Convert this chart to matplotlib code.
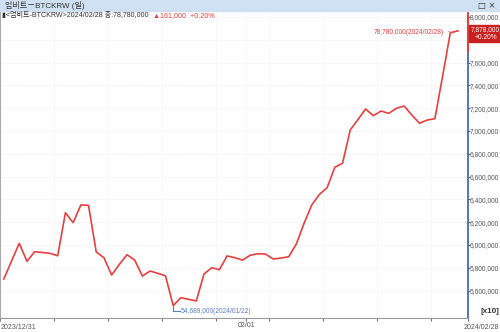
import matplotlib.pyplot as plt
import matplotlib.patches as mpatches
import numpy as np
import pandas as pd

plt.rcParams['font.family'] = ['Liberation Sans', 'Noto Sans CJK KR', 'DejaVu Sans']

# daily close, 2023/12/31 .. 2024/02/28 (KRW)
dates = pd.date_range('2023-12-31', '2024-02-28', freq='D')
close = [57020000, 58600000, 60150000, 58570000, 59410000, 59350000, 59270000,
         59060000, 62830000, 61960000, 63510000, 63480000, 59390000, 58890000,
         57370000, 58300000, 59150000, 58680000, 57280000, 57720000, 57520000,
         57300000, 54689000, 55380000, 55240000, 55090000, 57450000, 58010000,
         57840000, 59040000, 58890000, 58680000, 59100000, 59240000, 59210000,
         58770000, 58860000, 58970000, 60090000, 61900000, 63510000, 64440000,
         65030000, 66820000, 67170000, 70090000, 71000000, 71930000, 71340000,
         71750000, 71550000, 71990000, 72190000, 71400000, 70680000, 70960000,
         71080000, 74800000, 78619000, 78780000]
yticks = [5600000, 5800000, 6000000, 6200000, 6400000, 6600000, 6800000,
          7000000, 7200000, 7400000, 7600000, 8000000]

red = '#e8403f'
blue = '#5b7fbf'
gray = '#555555'

x = np.arange(len(close))
y = np.array(close) / 10  # chart shows values in x10 units

fig = plt.figure(figsize=(5, 3.32), dpi=100)
ax = fig.add_axes([0.0, 0.042, 0.936, 0.925])
ax.plot(x, y, color=red, lw=1.2, zorder=3)
ax.set_xlim(-0.5, 60.3)
ax.set_ylim(5359600, 8052600)

# grid
for v in yticks + [7800000]:
    ax.axhline(v, color='#eeeeee', lw=0.6, ls=(0, (1, 1)), zorder=1)
for d in [6.5, 13.5, 20.5, 27.5, 31.5, 34.5, 41.5, 48.5, 55.5]:
    ax.axvline(d, color='#f2f2f2', lw=0.6, ls=(0, (1, 1)), zorder=1)

# spines
ax.spines['top'].set_visible(False)
ax.spines['left'].set_color('#aaaaaa')
ax.spines['left'].set_linestyle((0, (1, 1)))
ax.spines['bottom'].set_color('#999999')
ax.spines['right'].set_color('#3a5ca8')
ax.spines['right'].set_linewidth(1.2)

ax.yaxis.tick_right()
ax.set_yticks(yticks)
ax.set_yticklabels(['{:,}'.format(v) for v in yticks], fontsize=4.8, color=gray)
ax.tick_params(axis='y', length=1.2, pad=0.3, color='#3a5ca8')
ax.set_xticks([-0.5, 6.5, 13.5, 20.5, 27.5, 31.5, 34.5, 41.5, 48.5, 55.5, 60.3])
ax.set_xticklabels(['', '', '', '', '', '02/01', '', '', '', '', ''], fontsize=5, color=gray)
ax.tick_params(axis='x', length=2, pad=1, color='#777777')
fig.text(0.002, 0.004, '2023/12/31', fontsize=5, color=gray, ha='left', va='bottom')
fig.text(0.998, 0.004, '2024/02/28', fontsize=5, color=gray, ha='right', va='bottom')
fig.text(0.998, 0.05, '[x10]', fontsize=5.8, color='#333333', ha='right', va='bottom',
         weight='bold')

# red marker on top of right axis
ax.plot([1, 1], [0.87, 1.0], transform=ax.transAxes, color=red, lw=1.5, clip_on=False, zorder=4)

# max / last annotation
last = len(close) - 1
ax.annotate('{:,}({})'.format(close[last], dates[last].strftime('%Y/%m/%d')),
            xy=(x[last] - 0.8, y[last] - 5000), xytext=(x[last] - 1.9, y[last] - 15000),
            fontsize=4.8, color=red, ha='right', va='center',
            arrowprops=dict(arrowstyle='-', color=red, lw=0.8))

# min annotation
imin = int(np.argmin(close))
ax.plot([x[imin], x[imin], x[imin] + 0.9], [y[imin], y[imin] - 50000, y[imin] - 50000],
        color=blue, lw=0.8, zorder=4)
ax.text(x[imin] + 1.0, y[imin] - 50000,
        '{:,}({})'.format(close[imin], dates[imin].strftime('%Y/%m/%d')),
        fontsize=4.8, color=blue, ha='left', va='center')

# current value tag on the right axis
tag = mpatches.Rectangle((0.937, 0.873), 0.063, 0.053, transform=fig.transFigure,
                         color='#c8201e', clip_on=False)
fig.patches.append(tag)
fig.text(0.999, 0.912, '{:,}'.format(int(y[last])), fontsize=4.8, color='white',
         ha='right', va='center')
fig.text(0.995, 0.887, '+0.20%', fontsize=4.8, color='white', ha='right', va='center')

# window title bar
bar = mpatches.Rectangle((0, 0.967), 1, 0.033, transform=fig.transFigure,
                         color='#cfe0f3', clip_on=False)
fig.patches.append(bar)
fig.text(0.01, 0.984, '업비트－BTCKRW (일)', fontsize=5.8, color='#333333', va='center')
fig.text(0.955, 0.984, '□ ×', fontsize=6, color='#333333', va='center',
         family=['DejaVu Sans'])

# header line
chg = close[last] - close[last - 1]
pct = chg / close[last - 1] * 100
head = fig.text(0.004, 0.953,
                '▮<업비트-BTCKRW>{} 종:{:,}'.format(dates[last].strftime('%Y/%m/%d'), close[last]),
                fontsize=5.1, color='#333333', va='center')
fig.add_artist(plt.Annotation('▲{:,}  +{:.2f}%'.format(chg, pct), xy=(1, 0.5),
                              xycoords=head, xytext=(3, 0), textcoords='offset points',
                              fontsize=5.1, color=red, va='center', ha='left'))

fig.savefig('out.png', dpi=100)
